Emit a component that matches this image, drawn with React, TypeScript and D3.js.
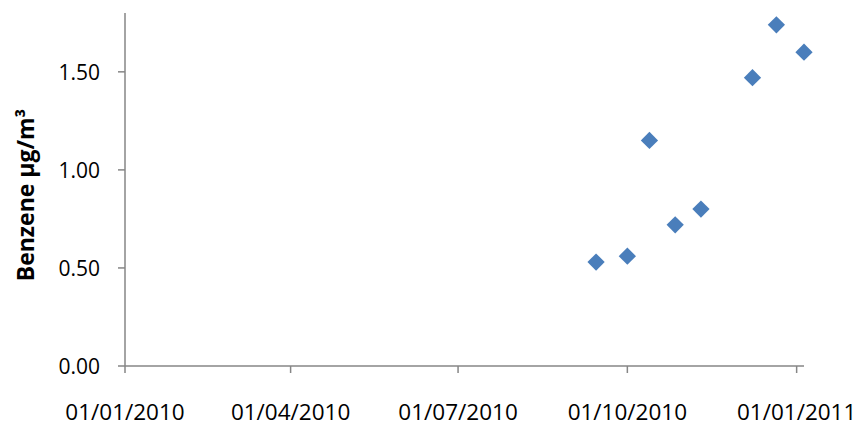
import React from "react";
import * as d3 from "d3";

// sampling dates and benzene concentration (µg/m³)
const dates = [
  "2010-09-14",
  "2010-10-01",
  "2010-10-13",
  "2010-10-27",
  "2010-11-10",
  "2010-12-08",
  "2010-12-21",
  "2011-01-05",
];
const benzene = [0.53, 0.56, 1.15, 0.72, 0.8, 1.47, 1.74, 1.6];

const xTicks = ["2010-01-01", "2010-04-01", "2010-07-01", "2010-10-01", "2011-01-01"];
const yTicks = [0, 0.5, 1, 1.5];

const parse = d3.utcParse("%Y-%m-%d");
const fmtDate = d3.utcFormat("%d/%m/%Y");

const App = () => {
  const width = 862;
  const height = 426;
  const left = 125;
  const right = 804;
  const top = 13;
  const bottom = 366;

  const xScale = d3
    .scaleUtc()
    .domain([parse("2010-01-01")!, parse("2011-01-05")!])
    .range([left, right]);
  const yScale = d3.scaleLinear().domain([0, 1.8]).range([bottom, top]);

  const axisColor = "#868686";
  const font = "'Open Sans', sans-serif";
  const diamond = d3.symbol().type(d3.symbolDiamond2).size(190)();

  return (
    <svg
      width={width}
      height={height}
      style={{ position: "absolute", left: 0, top: 0 }}
    >
      <rect width={width} height={height} fill="#fff" />

      {/* y axis */}
      <line x1={left} x2={left} y1={top} y2={bottom} stroke={axisColor} strokeWidth={1.5} />
      {yTicks.map((t) => (
        <g key={t}>
          <line x1={left - 7} x2={left} y1={yScale(t)} y2={yScale(t)} stroke={axisColor} strokeWidth={1.5} />
          <text
            x={left - 25}
            y={yScale(t)}
            textAnchor="end"
            dominantBaseline="central"
            fontFamily={font}
            fontSize={21}
            fill="#000"
          >
            {d3.format(".2f")(t)}
          </text>
        </g>
      ))}

      {/* x axis */}
      <line x1={left} x2={right} y1={bottom} y2={bottom} stroke={axisColor} strokeWidth={1.5} />
      {xTicks.map((t) => {
        const x = xScale(parse(t)!);
        return (
          <g key={t}>
            <line x1={x} x2={x} y1={bottom} y2={bottom + 7} stroke={axisColor} strokeWidth={1.5} />
            <text
              x={x}
              y={411}
              textAnchor="middle"
              dominantBaseline="central"
              fontFamily={font}
              fontSize={22.5}
              fill="#000"
            >
              {fmtDate(parse(t)!)}
            </text>
          </g>
        );
      })}

      {/* axis title */}
      <text
        transform={`translate(34,195) rotate(-90)`}
        textAnchor="middle"
        fontFamily={font}
        fontWeight="bold"
        fontSize={23}
        fill="#000"
      >
        Benzene µg/m³
      </text>

      {/* points */}
      {dates.map((d, i) => (
        <path
          key={d}
          d={diamond!}
          transform={`translate(${xScale(parse(d)!)},${yScale(benzene[i])})`}
          fill="#4A7EBB"
        />
      ))}
    </svg>
  );
};

export default App;
